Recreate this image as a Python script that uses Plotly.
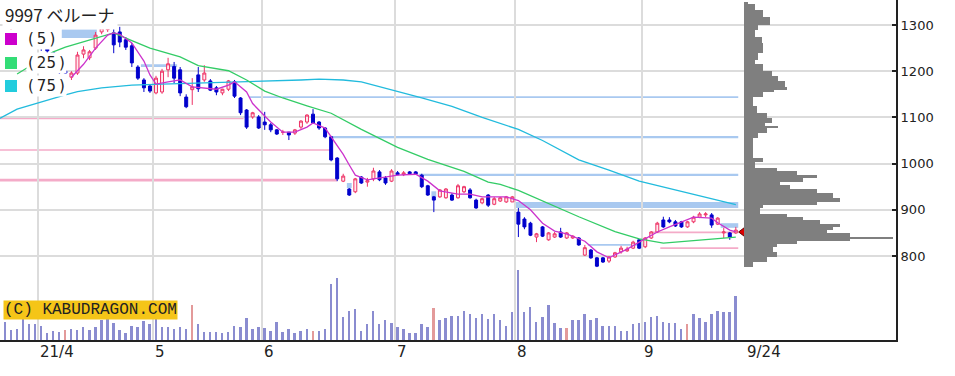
import plotly.graph_objects as go

# ---------------- data ----------------
title_text = "9997 ベルーナ"
ma_labels = ["(\u20095\u2009)", "(\u200925\u2009)", "(\u200975\u2009)"]
date_labels = ["21/4", "5", "6", "7", "8", "9", "9/24"]
month_break_idx = [5.5, 24.5, 42.5, 64.5, 84.5, 105.5]
last_label_idx = 122.5
price_ticks = [800, 900, 1000, 1100, 1200, 1300]

opens = [1315,1294,1308,1322,1312,1310,1290,1252,1240,1202,1200,1187,1196,1237,1229,1250,1285,1290,1283,1285,
         1268,1255,1209,1181,1168,1153,1155,1203,1210,1203,1144,1160,1192,1181,1179,1164,1153,1161,1177,1142,
         1116,1101,1101,1090,1084,1073,1068,1068,1066,1079,1090,1107,1090,1077,1058,1012,962,945,939,971,
         960,967,982,969,962,980,976,982,982,975,952,928,928,926,932,926,939,943,921,915,
         932,912,919,917,917,895,880,871,841,863,835,841,852,839,839,839,802,813,796,796,
         789,798,809,811,817,835,820,839,852,878,878,874,874,863,874,884,889,889,869,850,850,850]
highs = [1322,1315,1330,1328,1320,1318,1298,1256,1242,1205,1203,1200,1242,1254,1246,1285,1343,1300,1296,1296,
         1274,1261,1213,1185,1172,1190,1205,1229,1220,1209,1150,1185,1209,1213,1183,1168,1162,1181,1181,1144,
         1118,1112,1105,1112,1088,1075,1073,1068,1075,1094,1107,1118,1092,1079,1060,1014,978,947,969,973,
         969,991,986,973,988,984,984,984,984,978,954,930,945,947,936,956,952,947,924,926,
         934,928,928,930,930,904,884,874,850,865,852,852,861,852,845,841,824,815,798,798,
         800,809,822,820,833,837,841,854,874,885,884,878,876,876,887,895,895,893,884,861,852,863]
lows = [1292,1290,1302,1305,1300,1292,1244,1240,1200,1194,1194,1181,1192,1228,1224,1246,1280,1285,1239,1252,
        1246,1209,1181,1155,1153,1150,1151,1187,1174,1146,1120,1127,1155,1177,1157,1148,1148,1157,1142,1105,
        1075,1097,1075,1073,1068,1062,1062,1051,1062,1075,1086,1086,1073,1055,1005,962,960,930,936,956,
        950,962,962,954,960,975,973,976,976,947,930,895,926,924,919,924,936,924,902,912,
        906,910,917,915,917,841,858,843,830,841,833,839,839,837,837,822,800,794,776,785,
        785,796,805,809,815,815,817,837,850,861,871,863,861,861,871,882,884,861,867,839,835,848]
closes = [1296,1308,1322,1310,1305,1300,1250,1244,1205,1197,1196,1196,1235,1246,1242,1278,1294,1298,1257,1263,
          1252,1218,1185,1164,1157,1185,1200,1216,1185,1153,1123,1166,1162,1196,1159,1155,1161,1179,1146,1110,
          1079,1110,1077,1084,1073,1064,1068,1062,1073,1092,1105,1088,1077,1058,1008,967,973,932,967,958,
          963,984,965,958,984,976,980,978,977,950,932,921,943,945,921,952,950,926,904,924,
          910,924,926,928,928,869,863,845,848,843,850,848,841,850,843,824,818,796,778,787,
          798,807,817,815,830,817,839,852,871,863,874,865,863,874,884,891,891,867,882,852,841,856]

volumes = [180,100,110,220,160,160,140,70,90,80,100,110,100,130,100,130,200,220,170,100,
           70,140,130,190,160,220,130,130,110,130,110,350,160,80,80,80,70,80,140,130,
           220,110,130,120,90,180,80,110,70,90,110,90,90,110,560,620,230,290,310,90,
           160,290,160,200,170,130,110,70,70,160,130,320,200,220,240,240,290,260,220,260,
           210,260,200,140,280,700,280,330,180,230,350,170,120,120,200,200,260,200,220,140,
           140,140,90,90,160,170,180,230,240,180,170,170,110,160,260,220,180,260,290,280,280,440]
marked_volume_days = [10, 31, 51, 71, 93, 113]

ma5_idx = [11,13,15,17,18,19,21,23,24,25,27,29,31,33,35,37,38,40,41,43,44,46,48,50,51,53,54,56,57,58,
           60,62,65,68,70,72,75,77,79,83,85,87,89,91,93,96,98,100,101,103,105,108,110,112,114,117,118,120,121]
ma5_val = [1187,1215,1250,1278,1283,1280,1261,1222,1192,1172,1177,1181,1166,1164,1161,1170,1177,1155,1130,1103,
           1090,1068,1068,1079,1088,1077,1058,1020,997,975,965,969,975,977,962,941,934,934,928,928,
           920,900,871,854,848,832,809,796,802,815,830,852,863,874,884,882,872,856,852]
ma25_idx = [2,8,10,14,16,18,21,24,29,32,37,40,43,46,50,54,59,65,70,76,80,82,85,90,95,101,105,109,115,121]
ma25_val = [1194,1242,1252,1268,1275,1283,1266,1250,1231,1212,1201,1181,1157,1142,1125,1109,1074,1035,1009,983,
            960,955,942,913,885,853,837,828,835,841]
ma75_idx = [-1,2,10,12,16,21,26,32,41,49,52,56,59,64,69,74,79,85,89,95,100,105,113,121]
ma75_val = [1097,1118,1149,1156,1164,1170,1172,1174,1177,1181,1183,1181,1177,1160,1142,1124,1100,1074,1050,1008,
            986,962,936,911]

# gap zones: start index, end index, low price, high price
down_gap_zones = [(9.4, 15.2, 1272, 1291), (22.5, 28.5, 1209, 1215), (40.5, 121.4, 1142, 1146),
                  (54, 121.4, 1055, 1060), (68.5, 121.4, 973, 978), (84.5, 121.4, 904, 917),
                  (96.5, 106.3, 822, 826), (118.5, 121.4, 861, 871), (56.6, 57.4, 947, 958),
                  (70.6, 71.4, 928, 940)]
up_gap_zones = [(-1, 39.5, 1096, 1102), (-1, 54, 1028, 1031), (-1, 55, 961, 967),
                (107, 121.4, 849, 853), (108.5, 121.4, 815, 819)]

# volume-at-price profile: low, high, amount
prof_lo = [1345,1332,1318,1300,1290,1275,1260,1240,1225,1215,1200,1190,1178,1166,1160,1155,1145,1125,1110,1099,
           1088,1082,1079,1066,1055,1012,1004,990,983,976,969,961,954,946,936,925,917,910,903,892,
           885,878,870,863,856,849,842,838,834,827,820,809,798,788,777]
prof_hi = [1350,1345,1332,1318,1300,1290,1275,1260,1240,1225,1215,1200,1190,1178,1166,1160,1155,1145,1125,1110,
           1099,1088,1082,1079,1066,1055,1012,1004,990,983,976,969,961,954,946,936,925,917,910,903,
           892,885,878,870,863,856,849,842,838,834,827,820,809,798,788]
prof_vol = [400,1100,1900,2600,1400,1100,1800,1900,1400,1100,1900,2800,3400,4100,4300,3000,1900,900,1300,2300,
            2800,2100,3400,2300,1400,900,1900,1100,3300,5300,7300,5900,3600,4600,7300,8900,9600,7300,1900,1600,
            4300,5900,7600,9600,8900,8300,10600,14900,10600,5300,3300,2900,3300,2300,900]
last_price_mark = 852

# ---------------- figure ----------------
W, H = 955, 376
L, R, T, B = 0, 59, 0, 36
PW, PH = W - L - R, H - T - B
X0_IDX, X1_IDX = -0.828, 147.52
Y0P, Y1P = 618.2, 1354.1

idx = list(range(len(opens)))
fig = go.Figure()

vol_colors = ['#e39a9a' if i in marked_volume_days else '#8a8cd0' for i in idx]
fig.add_trace(go.Bar(x=idx, y=volumes, yaxis='y2', marker=dict(color=vol_colors, line=dict(width=0)),
                     width=0.32, showlegend=False, hoverinfo='skip'))

centers = [(a + b) / 2 for a, b in zip(prof_lo, prof_hi)]
heights = [b - a for a, b in zip(prof_lo, prof_hi)]
fig.add_trace(go.Bar(y=centers, x=prof_vol, width=heights, base=0, orientation='h', xaxis='x2', yaxis='y',
                     marker=dict(color='#7f7f7f', line=dict(width=0)), showlegend=False, hoverinfo='skip'))

fig.add_trace(go.Candlestick(x=idx, open=opens, high=highs, low=lows, close=closes,
                             increasing=dict(line=dict(color='#ee3366', width=1), fillcolor='#ffe8ee'),
                             decreasing=dict(line=dict(color='#0000cc', width=1), fillcolor='#0000cc'),
                             whiskerwidth=0, showlegend=False, hoverinfo='skip'))

fig.add_trace(go.Scatter(x=ma75_idx, y=ma75_val, mode='lines', line=dict(color='#22bbdd', width=1.3),
                         showlegend=False, hoverinfo='skip'))
fig.add_trace(go.Scatter(x=ma25_idx, y=ma25_val, mode='lines', line=dict(color='#33cc66', width=1.3),
                         showlegend=False, hoverinfo='skip'))
fig.add_trace(go.Scatter(x=ma5_idx, y=ma5_val, mode='lines', line=dict(color='#cc33cc', width=1.3),
                         showlegend=False, hoverinfo='skip'))

fig.add_trace(go.Scatter(x=[len(opens) + 0.3], y=[last_price_mark], mode='markers',
                         marker=dict(symbol='triangle-left', size=10, color='#dd0000',
                                     line=dict(color='#660000', width=1)),
                         showlegend=False, hoverinfo='skip'))

shapes = []
for x0, x1, lo, hi in down_gap_zones:
    shapes.append(dict(type='rect', xref='x', yref='y', x0=x0, x1=x1, y0=lo, y1=hi,
                       fillcolor='#a9c9f0', line=dict(width=0), layer='below'))
for x0, x1, lo, hi in up_gap_zones:
    shapes.append(dict(type='rect', xref='x', yref='y', x0=x0, x1=x1, y0=lo, y1=hi,
                       fillcolor='#f4abc8', line=dict(width=0), layer='below'))

def px_x(p):
    return p / PW

def px_y(p):
    return 1 - p / PH

sq_colors = ['#cc00cc', '#33dd77', '#22ccdd']
sq_tops = [33, 57, 80]
for c, t in zip(sq_colors, sq_tops):
    shapes.append(dict(type='rect', xref='paper', yref='paper', x0=px_x(5), x1=px_x(17),
                       y0=px_y(t + 12), y1=px_y(t), fillcolor=c, line=dict(width=0), layer='above'))

annotations = []
annotations.append(dict(text=title_text, x=px_x(2), y=px_y(15), xref='paper', yref='paper',
                        xanchor='left', yanchor='middle', showarrow=False, bgcolor='white', borderpad=2,
                        font=dict(family='Noto Sans CJK JP', size=17, color='#222')))
for lab, t in zip(ma_labels, sq_tops):
    annotations.append(dict(text=lab, x=px_x(26), y=px_y(t + 6), xref='paper', yref='paper',
                            xanchor='left', yanchor='middle', showarrow=False, bgcolor='white', borderpad=1,
                            font=dict(family='DejaVu Sans', size=15, color='#222')))
annotations.append(dict(text='(C) KABUDRAGON.COM', x=px_x(3), y=px_y(310), xref='paper', yref='paper',
                        xanchor='left', yanchor='middle', showarrow=False, bgcolor='#f5c518', borderpad=0,
                        font=dict(family='Liberation Mono', size=16, color='#222')))
for lab, xi in zip(date_labels, month_break_idx + [last_label_idx]):
    annotations.append(dict(text=lab, x=xi, y=0, xref='x', yref='paper', xanchor='left', yanchor='top',
                            xshift=0, yshift=-1, showarrow=False,
                            font=dict(family='DejaVu Sans', size=15, color='#222')))

fig.update_layout(
    width=W, height=H, margin=dict(l=L, r=R, t=T, b=B),
    paper_bgcolor='white', plot_bgcolor='white',
    shapes=shapes, annotations=annotations, bargap=0,
    xaxis=dict(range=[X0_IDX, X1_IDX], tickvals=month_break_idx, showticklabels=False, ticks='',
               showgrid=True, gridcolor='#dcdcdc', gridwidth=2, zeroline=False,
               showline=True, linecolor='#222', linewidth=2, rangeslider=dict(visible=False), fixedrange=True),
    xaxis2=dict(overlaying='x', range=[-74400, 15200], visible=False, fixedrange=True),
    yaxis=dict(side='right', range=[Y0P, Y1P], tickvals=price_ticks, ticks='inside', ticklen=4,
               tickcolor='#222', tickwidth=1.5, showgrid=True, gridcolor='#dcdcdc', gridwidth=2,
               zeroline=False, showline=True, linecolor='#222', linewidth=2,
               tickfont=dict(family='DejaVu Sans', size=13, color='#222'), fixedrange=True),
    yaxis2=dict(overlaying='y', range=[0, 3400], visible=False, fixedrange=True),
)

fig.write_html("out.html", config={'displayModeBar': False},
               post_script="document.body.style.margin='0px';document.body.style.padding='0px';")
